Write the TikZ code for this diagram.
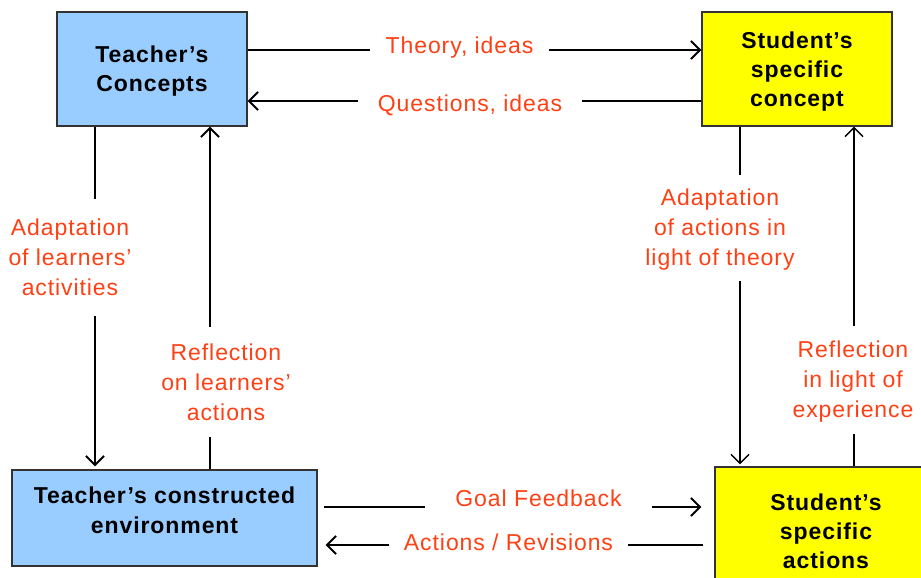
\documentclass[tikz,border=0pt]{standalone}
\usepackage{fontspec}
\setmainfont{Liberation Sans}[LetterSpace=4]
\usetikzlibrary{arrows.meta}
\definecolor{lblred}{RGB}{255,64,20}
\definecolor{boxblue}{RGB}{153,204,255}
\definecolor{boxyellow}{RGB}{255,255,0}
\begin{document}
\begin{tikzpicture}[x=1pt,y=-1pt,
  box/.style={draw=black!80, line width=1.3pt, inner sep=0pt, align=center, text depth=0pt,
    font=\bfseries\fontsize{23}{29}\selectfont},
  boxtxt/.style={inner sep=0pt, align=center, font=\bfseries\fontsize{23}{30}\selectfont},
  lblh/.style={fill=white, text=lblred, inner xsep=16pt, inner ysep=4pt,
    font=\fontsize{23}{30}\selectfont},
  lblv/.style={fill=white, text=lblred, inner sep=0pt, align=center, text depth=0pt,
    font=\fontsize{23}{30}\selectfont},
  arr/.style={line width=2pt, -{Straight Barb[length=9pt,width=18pt]}},
  arrthin/.style={line width=1.4pt, -{Straight Barb[length=9pt,width=18pt]}}]
\path[use as bounding box] (0,0) rectangle (921,578);
\clip (0,0) rectangle (921,578);
% boxes
\node[box, fill=boxblue, minimum width=190pt, minimum height=114pt] (TC) at (152,69) {Teacher’s\\Concepts};
\node[box, fill=boxyellow, minimum width=190pt, minimum height=114pt] (SC) at (797,69) {Student’s\\specific\\concept};
\node[box, fill=boxblue, minimum width=305pt, minimum height=96pt] (TE) at (164.5,518) {};
\node[boxtxt] (TEtext) at (164.5,510) {Teacher’s constructed\\environment};
\node[box, fill=boxyellow, minimum width=222pt, minimum height=128pt] (SA) at (826,531) {Student’s\\specific\\actions};
% helper coordinates
\coordinate (h1) at (0,50);
\coordinate (h2) at (0,101);
\coordinate (h3) at (0,507);
\coordinate (h4) at (0,545);
\coordinate (v1) at (95,0);
\coordinate (v2) at (210,0);
\coordinate (v3) at (740,0);
\coordinate (v4) at (854,0);
% connectors
\draw[arr] (TC.east |- h1) -- (SC.west |- h1);
\draw[arr] (SC.west |- h2) -- (TC.east |- h2);
\draw[arr, shorten <=6pt, shorten >=13pt] (TE.east |- h3) -- (SA.west |- h3);
\draw[arr, shorten <=11pt, shorten >=8pt] (SA.west |- h4) -- (TE.east |- h4);
\draw[arr, shorten >=3pt] (TC.south -| v1) -- (TE.north -| v1);
\draw[arr] (TE.north -| v2) -- (TC.south -| v2);
\draw[arrthin, shorten >=2pt] (SC.south -| v3) -- (SA.north -| v3);
\draw[arrthin] (SA.north -| v4) -- (SC.south -| v4);
% labels
\node[lblh, anchor=base] (Lth) at (459.5,53.3) {Theory, ideas};
\node[lblh, anchor=base, inner xsep=20pt] (Lqu) at (470,111.5) {Questions, ideas};
\node[lblh, anchor=base, inner xsep=30pt] (Lgo) at (538.5,506.7) {Goal Feedback};
\node[lblh, anchor=base, inner xsep=15pt] (Lac) at (508.5,550) {Actions / Revisions};
\node[lblv, minimum height=117pt] (La) at (70,257) {Adaptation\\of learners’\\activities};
\node[lblv, minimum height=110pt] (Lr) at (226,382) {Reflection\\on learners’\\actions};
\node[lblv, minimum height=106pt] (Ra) at (720,227.5) {Adaptation\\of actions in\\light of theory};
\node[lblv, minimum height=108pt] (Rr) at (853,379.5) {Reflection\\in light of\\experience};
\end{tikzpicture}
\end{document}
